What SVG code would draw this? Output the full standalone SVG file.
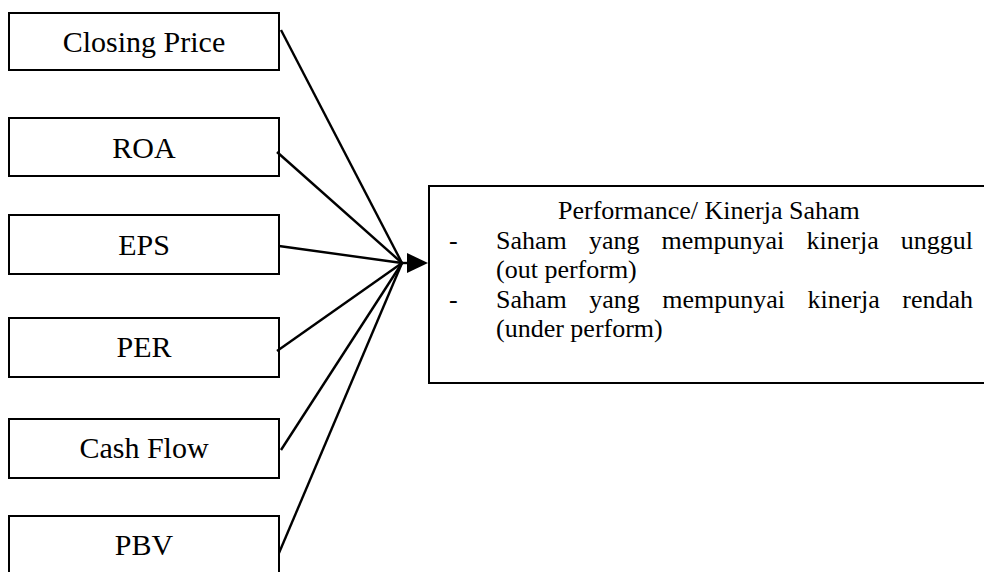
<svg xmlns="http://www.w3.org/2000/svg" width="984" height="572" viewBox="0 0 984 572">
<style>
.box{fill:#fff;stroke:#000;stroke-width:2}
.lbl{font-family:'Liberation Serif','Times New Roman',serif;font-size:30px;fill:#000;text-anchor:middle}
.txt{font-family:'Liberation Serif','Times New Roman',serif;font-size:26px;fill:#000}
.conn line{stroke:#000;stroke-width:2.4;fill:none}
</style>
<rect width="984" height="572" fill="#fff"/>
<g id="closing-price"><rect class="box" x="9" y="13" width="270" height="57"/><text class="lbl" x="144" y="52">Closing Price</text></g>
<g id="roa"><rect class="box" x="9" y="118" width="270" height="58"/><text class="lbl" x="144" y="158">ROA</text></g>
<g id="eps"><rect class="box" x="9" y="215" width="270" height="59"/><text class="lbl" x="144" y="255">EPS</text></g>
<g id="per"><rect class="box" x="9" y="318" width="270" height="59"/><text class="lbl" x="144" y="357">PER</text></g>
<g id="cash-flow"><rect class="box" x="9" y="419" width="270" height="59"/><text class="lbl" x="144" y="458">Cash Flow</text></g>
<g id="pbv"><rect class="box" x="9" y="516" width="270" height="70"/><text class="lbl" x="144" y="555">PBV</text></g>
<g id="performance">
<rect class="box" x="429" y="186" width="570" height="197"/>
<text class="txt" x="558" y="219">Performance/ Kinerja Saham</text>
<text class="txt" x="449" y="249">-</text>
<text class="txt" y="249"><tspan x="496">Saham</tspan><tspan x="589">yang</tspan><tspan x="661.5">mempunyai</tspan><tspan x="806.5">kinerja</tspan><tspan x="900.7">unggul</tspan></text>
<text class="txt" x="496" y="278">(out perform)</text>
<text class="txt" x="449" y="308">-</text>
<text class="txt" y="308"><tspan x="496">Saham</tspan><tspan x="589.3">yang</tspan><tspan x="662.3">mempunyai</tspan><tspan x="807.6">kinerja</tspan><tspan x="902.3">rendah</tspan></text>
<text class="txt" x="496" y="337">(under perform)</text>
</g>
<g class="conn" id="connectors">
<line x1="281" y1="30" x2="402" y2="263"/>
<line x1="277" y1="152" x2="402" y2="263"/>
<line x1="279" y1="246" x2="402" y2="263"/>
<line x1="277" y1="351" x2="402" y2="263"/>
<line x1="281" y1="450" x2="402" y2="263"/>
<line x1="279" y1="553" x2="402" y2="263"/>
<line x1="400" y1="263" x2="409" y2="263"/>
<path d="M407,253 L428,263 L407,273 Z" fill="#000"/>
</g>
</svg>
